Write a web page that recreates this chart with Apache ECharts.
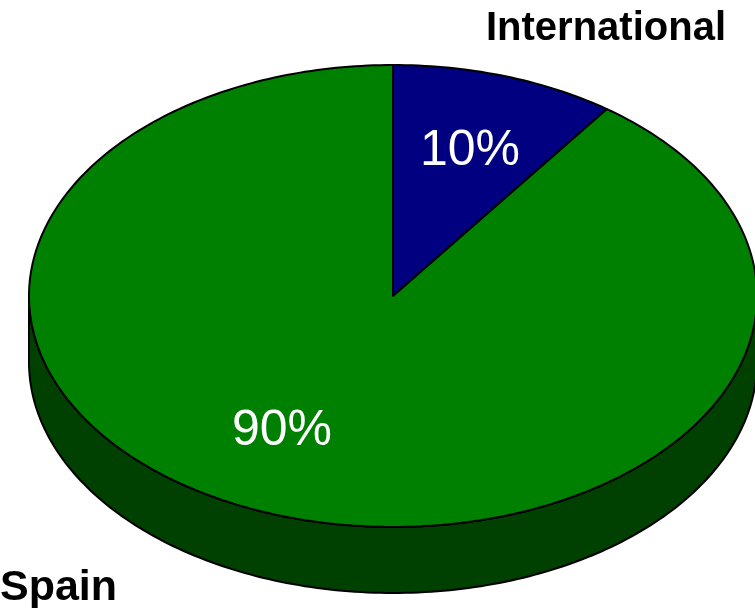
<!DOCTYPE html>
<html>
<head>
<meta charset="utf-8">
<script src="https://cdn.jsdelivr.net/npm/echarts@6/dist/echarts.min.js"></script>
<style>
html,body{margin:0;padding:0;background:#fff;}
#chart{width:755px;height:608px;}
</style>
</head>
<body>
<div id="chart"></div>
<script>
// ---- data ----
var categories = ['International', 'Spain'];
var values = [10, 90];
var percentLabels = ['10%', '90%'];

// ---- style / layout (not data) ----
var topColors = ['#000080', '#008000'];
var sideColors = ['#000040', '#004000'];
var GEO = { cx: 393, cy: 296, rx: 364, ry: 231, depth: 66 };
var PCT_POS = [[470, 151], [282, 431]];
var PCT_SIZE = 50;
var CAT_POS = [{ x: 726, y: 29, align: 'right', size: 40 }, { x: 0, y: 588, align: 'left', size: 43 }];

var total = values.reduce(function (a, b) { return a + b; }, 0);
var cum = [];
(function () { var s = 0; for (var i = 0; i < values.length; i++) { cum.push(s); s += values[i]; } })();

function pt(deg, dy) {
  var r = deg * Math.PI / 180;
  return [GEO.cx + GEO.rx * Math.cos(r), GEO.cy - GEO.ry * Math.sin(r) + (dy || 0)];
}
function arcPts(a0, a1, dy) {
  var pts = [];
  var n = Math.max(2, Math.ceil(Math.abs(a1 - a0) / 1));
  for (var k = 0; k <= n; k++) pts.push(pt(a0 + (a1 - a0) * k / n, dy));
  return pts;
}

function renderSide(params, api) {
  var i = params.dataIndex;
  var v = api.value(0);
  var hi = 90 - 360 * cum[i] / total;
  var lo = hi - 360 * v / total;
  var children = [];
  for (var k = -2; k <= 1; k++) {
    var f0 = -180 + 360 * k, f1 = 360 * k;
    var a = Math.max(lo, f0), b = Math.min(hi, f1);
    if (b > a) {
      var top = arcPts(a, b, 0);
      var bot = arcPts(b, a, GEO.depth);
      children.push({
        type: 'polygon',
        shape: { points: top.concat(bot) },
        style: { fill: sideColors[i], stroke: '#000', lineWidth: 2, lineJoin: 'round' }
      });
    }
  }
  return { type: 'group', children: children };
}

function renderTop(params, api) {
  var i = params.dataIndex;
  var v = api.value(0);
  var hi = 90 - 360 * cum[i] / total;
  var lo = hi - 360 * v / total;
  var pts = [[GEO.cx, GEO.cy]].concat(arcPts(hi, lo, 0));
  return {
    type: 'group',
    children: [
      {
        type: 'polygon',
        shape: { points: pts },
        style: { fill: topColors[i], stroke: '#000', lineWidth: 2, lineJoin: 'round' }
      },
      {
        type: 'text', z2: 10,
        style: {
          text: percentLabels[i], x: PCT_POS[i][0], y: PCT_POS[i][1],
          fill: '#fff', fontSize: PCT_SIZE, fontFamily: 'Liberation Sans, Arial, sans-serif',
          align: 'center', verticalAlign: 'middle'
        }
      },
      {
        type: 'text', z2: 10,
        style: {
          text: categories[i], x: CAT_POS[i].x, y: CAT_POS[i].y,
          fill: '#000', fontSize: CAT_POS[i].size, fontWeight: 'bold', fontFamily: 'Liberation Sans, Arial, sans-serif',
          align: CAT_POS[i].align, verticalAlign: 'middle'
        }
      }
    ]
  };
}

var seriesData = values.map(function (v, i) { return { name: categories[i], value: [v] }; });

var chart = echarts.init(document.getElementById('chart'), null, { renderer: 'canvas' });
chart.setOption({
  animation: false,
  backgroundColor: '#fff',
  series: [
    { type: 'custom', coordinateSystem: 'none', z: 1, data: seriesData, renderItem: renderSide, silent: true },
    { type: 'custom', coordinateSystem: 'none', z: 2, data: seriesData, renderItem: renderTop, silent: true }
  ]
});
</script>
</body>
</html>
